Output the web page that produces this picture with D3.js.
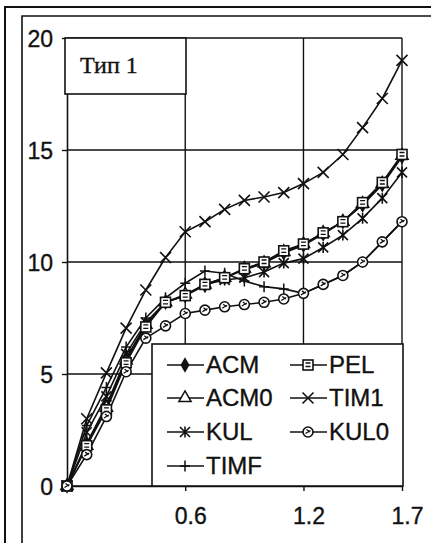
<!DOCTYPE html>
<html>
<head>
<meta charset="utf-8">
<script src="https://cdn.jsdelivr.net/npm/d3@7"></script>
<style>
  body { margin: 0; background: #fff; }
  svg { display: block; }
  text { font-family: Arial, "Liberation Sans", sans-serif; fill: #111; stroke: #111; stroke-width: 0.35px; }
</style>
</head>
<body>
<svg width="431" height="543"></svg>
<script>
// x values (step 0.1)
var xs = [0, 0.1, 0.2, 0.3, 0.4, 0.5, 0.6, 0.7, 0.8, 0.9, 1.0, 1.1, 1.2, 1.3, 1.4, 1.5, 1.6, 1.7];

var ACM  = [0, 1.9, 3.6, 5.7, 7.2, 8.2, 8.5, 8.95, 9.3, 9.65, 9.95, 10.4, 10.75, 11.25, 11.8, 12.55, 13.45, 14.7];
var ACM0 = [0, 1.8, 3.5, 5.6, 7.2, 8.2, 8.55, 9.0, 9.3, 9.7, 9.95, 10.45, 10.8, 11.3, 11.8, 12.6, 13.5, 14.75];
var KUL  = [0, 2.4, 4.0, 5.9, 7.3, 8.2, 8.5, 9.0, 9.2, 9.3, 9.55, 9.95, 10.15, 10.65, 11.2, 11.95, 12.85, 14.0];
var TIMF = [0, 2.7, 4.4, 6.2, 7.5, 8.4, 9.05, 9.6, 9.5, 9.15, 8.9, 8.8, 8.6, 9.0, 9.4, 10.0, 10.9, 11.8];
var PEL  = [0, 1.8, 3.4, 5.5, 7.1, 8.2, 8.5, 9.0, 9.3, 9.7, 10.0, 10.5, 10.8, 11.3, 11.8, 12.65, 13.55, 14.8];
var TIM1 = [0, 3.0, 5.05, 7.05, 8.75, 10.2, 11.35, 11.8, 12.35, 12.75, 12.9, 13.1, 13.5, 14.0, 14.8, 16.0, 17.3, 19.0];
var KUL0 = [0, 1.4, 3.1, 5.1, 6.6, 7.15, 7.7, 7.85, 8.0, 8.1, 8.2, 8.35, 8.6, 9.0, 9.4, 10.0, 10.9, 11.8];

var yTicks = [0, 5, 10, 15, 20];
var xTicks = [0.6, 1.2, 1.7];
var title = "Тип 1";

var series = [
  {name: "ACM",  values: ACM,  marker: "diamond"},
  {name: "ACM0", values: ACM0, marker: "triangle"},
  {name: "KUL",  values: KUL,  marker: "asterisk"},
  {name: "TIMF", values: TIMF, marker: "plus"},
  {name: "PEL",  values: PEL,  marker: "square"},
  {name: "TIM1", values: TIM1, marker: "cross"},
  {name: "KUL0", values: KUL0, marker: "circle"}
];

var svg = d3.select("svg");
var plotLeft = 67, plotRight = 402, plotTop = 38, plotBottom = 486;

var x = d3.scaleLinear().domain([0, 1.7]).range([plotLeft, plotRight]);
var y = d3.scaleLinear().domain([0, 20]).range([plotBottom, plotTop]);

// page frame (double border, cut off at right/bottom)
var frame = svg.append("g").attr("stroke", "#111").attr("fill", "none");
frame.append("path").attr("d", "M5,543 V7 H431").attr("stroke-width", 2);
frame.append("path").attr("d", "M22,543 V16 H431").attr("stroke-width", 1.6);

// grid
svg.append("g").selectAll("line")
  .data(yTicks)
  .enter().append("line")
  .attr("x1", plotLeft).attr("x2", plotRight)
  .attr("y1", function(d){ return y(d); })
  .attr("y2", function(d){ return y(d); })
  .attr("stroke", "#111").attr("stroke-width", 1.4);

svg.append("g").selectAll("line")
  .data(xTicks)
  .enter().append("line")
  .attr("y1", plotTop).attr("y2", plotBottom)
  .attr("x1", function(d){ return x(d); })
  .attr("x2", function(d){ return x(d); })
  .attr("stroke", "#111").attr("stroke-width", 1.4);

// axes
var yAxis = svg.append("g")
  .attr("transform", "translate(" + plotLeft + ",0)")
  .call(d3.axisLeft(y).tickValues(yTicks).tickSize(5).tickSizeOuter(0).tickPadding(9));
yAxis.selectAll("text").style("font-size", "23px").attr("dy", "0.36em");

var xAxis = svg.append("g")
  .attr("transform", "translate(0," + plotBottom + ")")
  .call(d3.axisBottom(x).tickValues(xTicks).tickSize(5).tickSizeOuter(0).tickPadding(17)
        .tickFormat(d3.format(".1f")));
xAxis.selectAll("text").style("font-size", "23px").attr("dx", 5);
svg.selectAll(".domain").attr("stroke", "#111").attr("stroke-width", 1.6);
svg.selectAll(".tick line").attr("stroke", "#111").attr("stroke-width", 1.4);

// marker shapes
function marker(g, type) {
  var s = 5;
  if (type === "diamond") {
    g.append("path").attr("d", d3.symbol().type(d3.symbolDiamond).size(70))
      .attr("fill", "#111");
  } else if (type === "triangle") {
    g.append("path").attr("d", d3.symbol().type(d3.symbolTriangle).size(65))
      .attr("fill", "#fff").attr("stroke", "#111").attr("stroke-width", 1.5);
  } else if (type === "square") {
    g.append("rect").attr("x", -s).attr("y", -s).attr("width", 2 * s).attr("height", 2 * s)
      .attr("fill", "#fff").attr("stroke", "#111").attr("stroke-width", 1.6);
    g.append("path").attr("d", "M-2.5,-2 H2.5 M-2.5,1.5 H2.5").attr("stroke", "#111").attr("stroke-width", 1.3);
  } else if (type === "circle") {
    g.append("circle").attr("r", s)
      .attr("fill", "#fff").attr("stroke", "#111").attr("stroke-width", 1.6);
    g.append("path").attr("d", "M-2.5,1.5 L2.5,-1.5 M-1.5,-2.5 L2,0").attr("stroke", "#111").attr("stroke-width", 1.3);
  } else if (type === "cross") {
    g.append("path").attr("d", "M-5.5,-5.5 L5.5,5.5 M-5.5,5.5 L5.5,-5.5")
      .attr("stroke", "#111").attr("stroke-width", 1.6);
  } else if (type === "asterisk") {
    g.append("path").attr("d", "M-5,-5 L5,5 M-5,5 L5,-5 M0,-5.5 V5.5")
      .attr("stroke", "#111").attr("stroke-width", 1.6);
  } else if (type === "plus") {
    g.append("path").attr("d", "M-5,0 H5 M0,-5.5 V5.5")
      .attr("stroke", "#111").attr("stroke-width", 1.5);
  }
}

// lines
var line = d3.line()
  .x(function(d, i){ return x(xs[i]); })
  .y(function(d){ return y(d); });

svg.append("g").selectAll("path")
  .data(series)
  .enter().append("path")
  .attr("d", function(d){ return line(d.values); })
  .attr("fill", "none")
  .attr("stroke", "#111")
  .attr("stroke-width", 1.6);

// markers
series.forEach(function(s){
  svg.append("g").selectAll("g")
    .data(s.values)
    .enter().append("g")
    .attr("transform", function(d, i){ return "translate(" + x(xs[i]) + "," + y(d) + ")"; })
    .each(function(){ marker(d3.select(this), s.marker); });
});

// title box
svg.append("rect")
  .attr("x", 65).attr("y", 38).attr("width", 121).attr("height", 56)
  .attr("fill", "#fff").attr("stroke", "#111").attr("stroke-width", 1.6);
svg.append("text")
  .attr("x", 80).attr("y", 73)
  .style("font-family", "'Liberation Serif', 'Times New Roman', serif")
  .style("font-size", "24px")
  .text(title);

// legend
var leg = svg.append("g");
leg.append("rect")
  .attr("x", 152).attr("y", 344).attr("width", 251).attr("height", 142)
  .attr("fill", "#fff").attr("stroke", "#111").attr("stroke-width", 1.6);

var rowY = [365, 398, 432, 466];
var colX = [167, 290];
var item = leg.selectAll("g.item")
  .data(series)
  .enter().append("g")
  .attr("class", "item")
  .attr("transform", function(d, i){
    var col = i < 4 ? 0 : 1, row = i < 4 ? i : i - 4;
    return "translate(" + colX[col] + "," + rowY[row] + ")";
  });
item.append("line")
  .attr("x1", 0).attr("x2", 37)
  .attr("stroke", "#111").attr("stroke-width", 1.5);
item.each(function(d){
  var g = d3.select(this).append("g").attr("transform", "translate(18,0)");
  marker(g, d.marker);
});
item.append("text")
  .attr("x", 39).attr("y", 8)
  .style("font-size", "24px")
  .text(function(d){ return d.name; });
</script>
</body>
</html>
